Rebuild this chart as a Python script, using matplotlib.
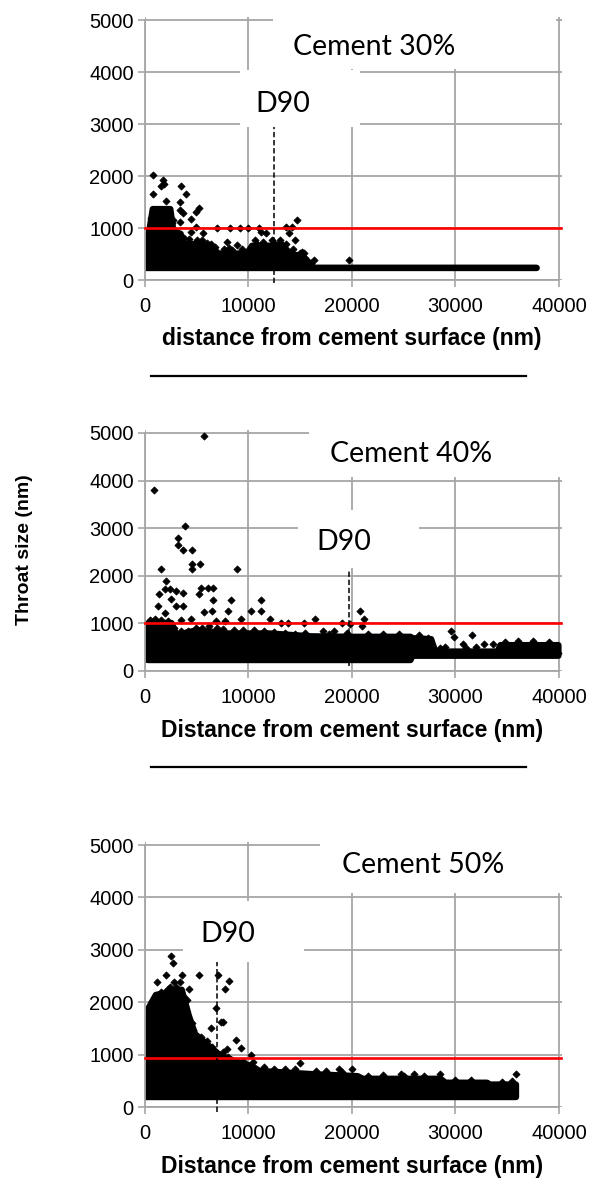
import matplotlib.pyplot as plt
from matplotlib.patches import Rectangle
from matplotlib.lines import Line2D

plt.rcParams['font.family'] = ['Liberation Sans', 'DejaVu Sans']

# ---- Cement 30% ----
band1_x = [0, 400, 700, 2400, 2700, 3400, 3600, 5500, 6500, 7000, 9800, 10300,
           12000, 13200, 14000, 15000, 15800, 16300, 37800]
band1_top = [700, 1000, 1375, 1375, 950, 900, 700, 700, 650, 520, 520, 670,
             670, 690, 510, 480, 350, 245, 245]
band1_low = [240] * len(band1_x)
pts1_x = [800, 1700, 1800, 1500, 800, 3500, 4000, 3400, 2000, 5200, 4900, 3400,
          3700, 2750, 4400, 3400, 4900, 7000, 8250, 9200, 10000, 11000, 11650,
          11200, 12300, 13600, 14200, 14700, 13900, 14500, 13600, 15000, 15400,
          5600, 5500, 6400, 7900, 8100, 8900, 10800, 10500, 11800, 12800, 4400,
          3400, 15200, 16300, 19700, 15400,
          600, 1000, 1300, 2200, 2600, 3000, 3800, 4300, 5000, 6000, 6800, 7600,
          8400, 9400, 10600, 11400, 12500, 13000, 14300, 15500, 16000]
pts1_y = [2020, 1920, 1850, 1800, 1650, 1800, 1650, 1500, 1520, 1380, 1300, 1350,
          1280, 1150, 1170, 1120, 1020, 1010, 1010, 1010, 1010, 1010, 900,
          930, 770, 1020, 1020, 1150, 900, 770, 700, 510, 510,
          900, 770, 700, 740, 610, 670, 700, 580, 640, 670, 930,
          770, 540, 385, 385, 385,
          1200, 1300, 1250, 1300, 1100, 900, 800, 780, 760, 720, 640, 600,
          580, 590, 760, 740, 720, 760, 600, 430, 320]

# ---- Cement 40% ----
band2_x = [0, 300, 2500, 3000, 5000, 8000, 12000, 16000, 20000, 25600, 25800,
           27600, 28000, 34000, 34300, 39900]
band2_top = [700, 1020, 1020, 770, 870, 800, 800, 740, 730, 730, 700,
             680, 420, 420, 555, 555]
band2_low = [250, 240, 240, 240, 240, 240, 240, 240, 240, 240, 330,
             330, 330, 330, 330, 330]
pts2_x = [5700, 850, 3900, 3150, 3150, 3700, 4500, 4500, 5300, 4500, 1550, 8900,
          2000, 1900, 2450, 3000, 3700, 1400, 5400, 6100, 6600, 5200, 6600, 8300,
          11200, 2500, 3000, 3650, 1250, 5700, 6500, 8000, 10200, 11200, 1900,
          4400, 3500, 6900, 7700, 12100, 9300, 13100, 13800, 15400, 4900, 4100,
          16450, 20800, 21200, 19000, 19800, 21000, 29600, 29900, 31600, 30700,
          32800, 33600, 17200, 18300,
          500, 1000, 1500, 2200, 2800, 3500, 4200, 5500, 6200, 7000, 7500, 8600,
          9500, 10500, 11500, 12500, 13500, 14500, 15500, 17800, 19500, 21500,
          23000, 24500, 26500, 27300, 28500, 29000, 31000, 32000, 34800, 36000,
          37500, 39000, 39900]
pts2_y = [4930, 3800, 3050, 2800, 2650, 2550, 2550, 2250, 2250, 2150, 2150, 2150,
          1900, 1730, 1730, 1690, 1640, 1620, 1750, 1750, 1750, 1620, 1500, 1500,
          1500, 1510, 1370, 1370, 1370, 1230, 1250, 1250, 1250, 1250, 1210,
          1100, 1070, 1060, 1060, 1100, 1090, 1000, 1000, 1000, 900, 800,
          1100, 1250, 1100, 1000, 990, 950, 850, 720, 750, 560,
          575, 560, 850, 850,
          1080, 1100, 1080, 1050, 900, 850, 850, 900, 950, 900, 880, 860,
          860, 870, 850, 820, 800, 780, 800, 780, 800, 780,
          780, 780, 750, 700, 480, 500, 480, 500, 600, 620,
          620, 610, 370]

# ---- Cement 50% ----
band3_x = [0, 300, 1000, 3500, 4200, 4800, 6000, 7200, 8500, 10300, 11000,
           16000, 20500, 21000, 28500, 29000, 33000, 33300, 35800]
band3_top = [1350, 1900, 2150, 2250, 1750, 1400, 1200, 1000, 900, 790, 700,
             640, 600, 550, 550, 475, 475, 440, 440]
band3_low = [200] * len(band3_x)
pts3_x = [2500, 2700, 2000, 3600, 5200, 7050, 8100, 7700, 2800, 3400, 1200, 4300,
          4100, 6850, 7300, 7500, 6400, 8800, 9260, 10200, 10400, 7900, 5400,
          6000, 4600, 15000, 18700, 20000, 24700, 26000, 28500, 35800, 2400, 1900,
          300, 500, 800, 1500, 2200, 3000, 3800, 4500, 5000, 5700, 6500, 7500,
          8000, 9500, 11500, 12500, 13500, 14500, 16500, 17500, 19000, 21500,
          23000, 25000, 27000, 30000, 31500, 34500, 35500]
pts3_y = [2880, 2750, 2520, 2520, 2520, 2520, 2400, 2250, 2380, 2380, 2380, 2250,
          2050, 1900, 1620, 1620, 1500, 1280, 1120, 1000, 860, 1110, 1330,
          1270, 1470, 850, 730, 730, 640, 640, 640, 640, 2300, 2200,
          1500, 1800, 2050, 2200, 2250, 2300, 2100, 1600, 1350, 1250, 1150, 1050,
          950, 880, 760, 730, 720, 720, 680, 690, 660, 600,
          620, 600, 590, 520, 520, 480, 500]

titles = ['Cement 30%', 'Cement 40%', 'Cement 50%']
xlabels = ['distance from cement surface (nm)',
           'Distance from cement surface (nm)',
           'Distance from cement surface (nm)']
red_level = [1000, 1000, 940]
d90_x = [12500, 19700, 7000]
d90_y = [(-60, 2950), (100, 2150), (-100, 2770)]

# layout: axes rects, label spots, white text boxes
rects = [[0.2449, 0.7633, 0.7046, 0.2224],
         [0.2449, 0.4328, 0.7046, 0.2036],
         [0.2449, 0.0642, 0.7046, 0.2241]]
title_pos = [(22170, 4327), (25730, 4397), (26880, 4460)]
d90_pos = [(13330, 3237), (19250, 2542), (8000, 3155)]
title_box = [(12370, 4050, 39700, 5250), (15850, 4070, 41500, 5300), (16900, 4090, 41500, 5300)]
d90_box = [(9180, 2940, 20810, 4040), (14780, 2170, 26470, 3375), (3670, 2760, 15360, 3935)]
xlabel_y = [338, 731, 1167]

grey = '#a6a6a6'
data = [(band1_x, band1_low, band1_top, pts1_x, pts1_y),
        (band2_x, band2_low, band2_top, pts2_x, pts2_y),
        (band3_x, band3_low, band3_top, pts3_x, pts3_y)]

fig = plt.figure(figsize=(5.92, 11.83), dpi=100)

for i in range(3):
    bx, blow, btop, px, py = data[i]
    ax = fig.add_axes(rects[i])
    ax.set_xlim(0, 40300)
    ax.set_ylim(0, 5060)
    ax.set_xticks(range(0, 40001, 10000))
    ax.set_yticks(range(0, 5001, 1000))
    ax.set_axisbelow(True)
    ax.grid(True, color=grey, linewidth=1.3)
    for s in ['top', 'right']:
        ax.spines[s].set_visible(False)
    for s in ['left', 'bottom']:
        ax.spines[s].set_color(grey)
        ax.spines[s].set_linewidth(1.3)
    ax.spines['left'].set_bounds(0, 5000)
    ax.spines['bottom'].set_bounds(0, 40000)
    ax.tick_params(direction='out', length=5, width=1.2, color=grey,
                   labelsize=14.5)
    ax.tick_params(axis='y', pad=3)
    ax.tick_params(axis='x', pad=7)

    # white label boxes
    for (x0, y0, x1, y1) in [title_box[i], d90_box[i]]:
        ax.add_patch(Rectangle((x0, y0), x1 - x0, y1 - y0, facecolor='white',
                               edgecolor='none', zorder=1, clip_on=False))

    # dense cloud of points and the scattered ones
    ax.fill_between(bx, blow, btop, facecolor='black', edgecolor='black',
                    linewidth=4.5, joinstyle='round', zorder=2)
    ax.scatter(px, py, marker='D', s=13, color='black', linewidths=0.6, zorder=2)

    ax.plot([0, 40200], [red_level[i], red_level[i]], color='#ff0000', linewidth=1.9,
            zorder=3, clip_on=False)
    ax.plot([d90_x[i], d90_x[i]], list(d90_y[i]), color='black', linewidth=1.1,
            linestyle=(0, (3.5, 1.8)), zorder=3, clip_on=False)

    ax.text(title_pos[i][0], title_pos[i][1], titles[i], family='Lato', fontsize=20.5,
            ha='center', va='baseline', zorder=4)
    ax.text(d90_pos[i][0], d90_pos[i][1], 'D90', family='Lato', fontsize=20.5,
            ha='center', va='baseline', zorder=4)

    fig.text(352 / 592, 1 - xlabel_y[i] / 1183, xlabels[i], fontsize=16.5,
             fontweight='bold', ha='center', va='center')

fig.text(24.5 / 592, 1 - 550 / 1183, 'Throat size (nm)', fontsize=14,
         fontweight='bold', rotation=90, ha='center', va='center')

for yy in [375.7, 766.7]:
    fig.add_artist(Line2D([151 / 592, 526 / 592], [1 - yy / 1183] * 2,
                          transform=fig.transFigure, color='black', linewidth=1.6))

fig.savefig('out.png', dpi=100)
